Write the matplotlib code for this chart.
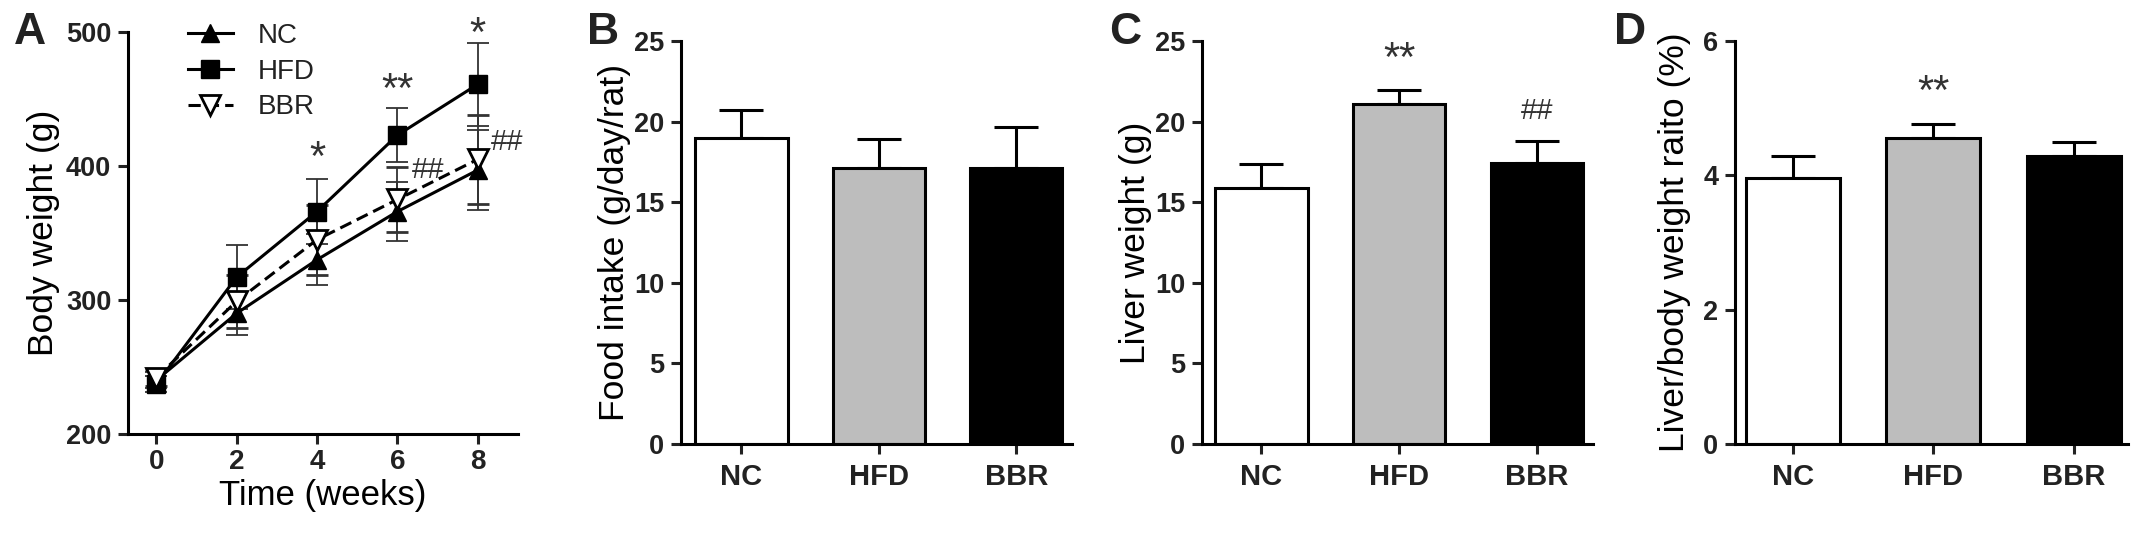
import matplotlib

matplotlib.use("Agg")
import matplotlib.pyplot as plt

plt.rcParams["font.family"] = ["Liberation Sans", "DejaVu Sans"]
plt.rcParams["axes.linewidth"] = 2.2
plt.rcParams["xtick.major.width"] = 2.2
plt.rcParams["ytick.major.width"] = 2.2
plt.rcParams["xtick.major.size"] = 7
plt.rcParams["ytick.major.size"] = 7
plt.rcParams["text.color"] = "#222222"
plt.rcParams["xtick.color"] = "#222222"
plt.rcParams["ytick.color"] = "#222222"

# panel A: body weight over time
weeks = [0, 2, 4, 6, 8]
nc_weight = [240, 290, 330, 366, 397]
nc_err = [6, 16, 19, 22, 30]
hfd_weight = [237, 317, 366, 423, 461]
hfd_err = [6, 24, 24, 20, 31]
bbr_weight = [242, 299, 345, 375, 405]
bbr_err = [6, 20, 26, 24, 33]

# significance marks on A: (x, y, text)
a_marks = [(4, 405, "*"), (6, 456, "**"), (8, 498, "*"), (6.76, 397, "##"), (8.73, 418, "##")]

groups = ["NC", "HFD", "BBR"]
bar_colors = ["white", "#bdbdbd", "black"]

food_intake = [19.0, 17.1, 17.1]
food_err = [1.7, 1.8, 2.55]

liver_weight = [15.9, 21.07, 17.41]
liver_err = [1.5, 0.9, 1.4]
liver_marks = ["", "**", "##"]

liver_ratio = [3.96, 4.56, 4.29]
ratio_err = [0.33, 0.21, 0.2]
ratio_marks = ["", "**", ""]

W, H = 2150, 557
fig = plt.figure(figsize=(W / 100, H / 100), dpi=100)


def box(left, right, top, bottom):
    return [left / W, (H - bottom) / H, (right - left) / W, (bottom - top) / H]


def style_axes(ax, xsize=20):
    ax.spines["top"].set_visible(False)
    ax.spines["right"].set_visible(False)
    ax.tick_params(axis="y", labelsize=19.5, pad=5)
    ax.tick_params(axis="x", labelsize=xsize)
    for lab in ax.get_yticklabels() + ax.get_xticklabels():
        lab.set_fontweight("bold")


def mark(ax, x, y, t):
    if "*" in t:
        ax.text(x, y, t, ha="center", va="center", fontsize=30, clip_on=False, color="#333333")
    else:
        ax.text(x, y, t, ha="center", va="center", fontsize=21, clip_on=False, color="#333333")


# ---- A ----
ax = fig.add_axes(box(128, 518, 32, 434))
ekw = dict(elinewidth=1.3, capsize=8, capthick=1.3, ecolor="#333333")
ax.errorbar(weeks, nc_weight, yerr=nc_err, color="black", lw=2.2, marker="^", ms=13,
            mfc="black", mec="black", label="NC", **ekw)
ax.errorbar(weeks, hfd_weight, yerr=hfd_err, color="black", lw=2.2, marker="s", ms=13,
            mfc="black", mec="black", label="HFD", **ekw)
ax.errorbar(weeks, bbr_weight, yerr=bbr_err, color="black", lw=2.2, ls=(0, (4, 2)), marker="v",
            ms=14, mfc="white", mec="black", mew=2, label="BBR", **ekw)
for x, y, t in a_marks:
    mark(ax, x, y, t)
ax.set_xlim(-0.7, 9.0)
ax.set_ylim(200, 500)
ax.set_xticks(weeks)
ax.set_yticks([200, 300, 400, 500])
ax.set_xlabel("Time (weeks)", fontsize=25, labelpad=3)
ax.set_ylabel("Body weight (g)", fontsize=25.5, labelpad=4)
style_axes(ax)
handles, labels = ax.get_legend_handles_labels()
handles = [h[0] for h in handles]
ax.legend(handles, labels, loc="upper left", bbox_to_anchor=(0.09, 1.085), frameon=False,
          fontsize=20, handlelength=1.6, labelspacing=0.35, handletextpad=0.9)
fig.text(30 / W, 1 - 32 / H, "A", fontsize=32, fontweight="bold", ha="center", va="center")


def bar_panel(rect, values, errs, ylim, yticks, ylabel, letter, letter_xy, xlim, marks=None,
              labelpad=2):
    ax = fig.add_axes(rect)
    pos = range(len(groups))
    ax.bar(pos, values, width=0.67, color=bar_colors, edgecolor="black", linewidth=2.2, zorder=2)
    ax.errorbar(pos, values, yerr=[[0] * len(errs), errs], fmt="none", ecolor="black",
                elinewidth=2.2, capsize=16, capthick=2.2, zorder=1)
    if marks:
        span = ylim[1] - ylim[0]
        for i, m in enumerate(marks):
            if m:
                mark(ax, i, values[i] + errs[i] + span * 0.075, m)
    ax.set_xlim(*xlim)
    ax.set_ylim(*ylim)
    ax.set_yticks(yticks)
    ax.set_xticks(list(pos))
    ax.set_xticklabels(groups)
    ax.tick_params(axis="x", pad=7)
    ax.set_ylabel(ylabel, fontsize=25.5, labelpad=labelpad)
    style_axes(ax, xsize=21)
    fig.text(letter_xy[0] / W, 1 - letter_xy[1] / H, letter, fontsize=32, fontweight="bold",
             ha="center", va="center")
    return ax


bar_panel(box(681, 1072, 41, 444), food_intake, food_err, (0, 25), [0, 5, 10, 15, 20, 25],
          "Food intake (g/day/rat)", "B", (603, 32), (-0.44, 2.405))
bar_panel(box(1202, 1593, 41, 444), liver_weight, liver_err, (0, 25), [0, 5, 10, 15, 20, 25],
          "Liver weight (g)", "C", (1125, 32), (-0.43, 2.405), liver_marks)
bar_panel(box(1735, 2128, 41, 444), liver_ratio, ratio_err, (0, 6), [0, 2, 4, 6],
          "Liver/body weight raito (%)", "D", (1630, 32), (-0.41, 2.385), ratio_marks,
          labelpad=9)

fig.savefig("out.png", dpi=100)
